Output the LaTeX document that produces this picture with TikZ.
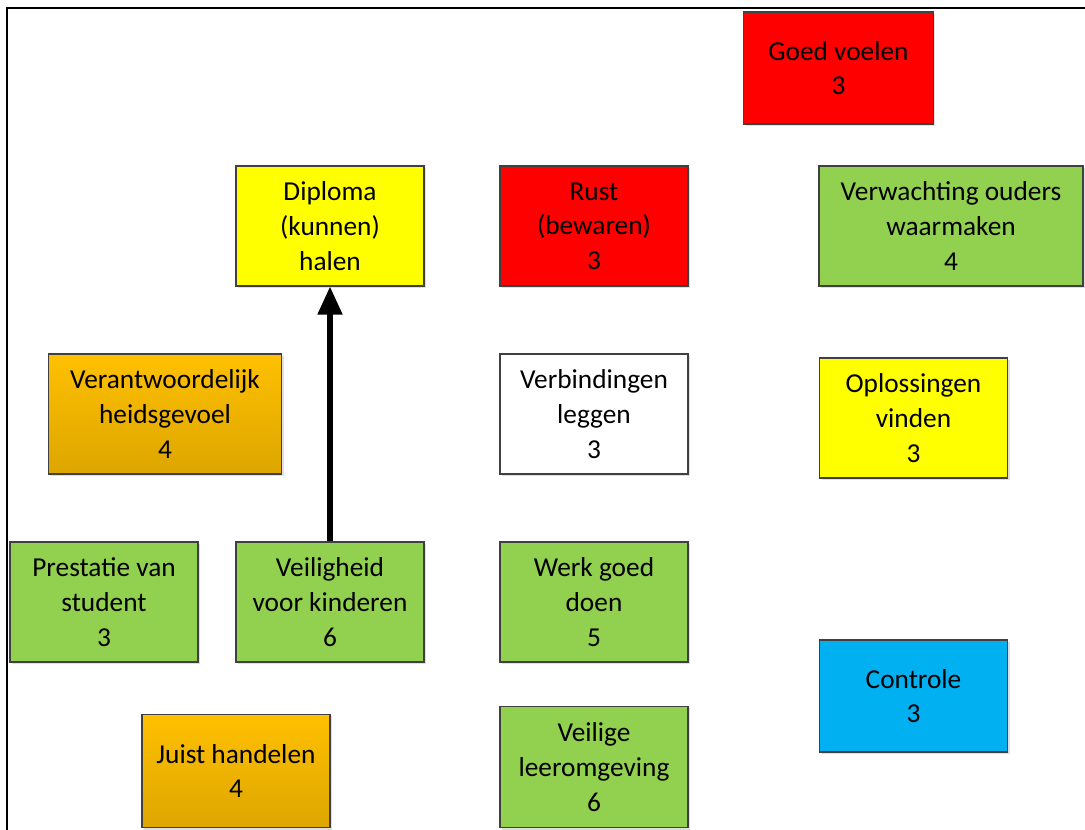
\documentclass[tikz,border=0pt]{standalone}
\usepackage{fontspec}
\setmainfont{Carlito}
\usetikzlibrary{arrows.meta,shadows}

\definecolor{boxred}{HTML}{FF0000}
\definecolor{boxyellow}{HTML}{FFFF00}
\definecolor{boxgreen}{HTML}{92D050}
\definecolor{boxblue}{HTML}{00B0F0}
\definecolor{boxorangetop}{HTML}{FFC000}
\definecolor{boxorangebot}{HTML}{DDA600}
\definecolor{boxline}{HTML}{404040}

\tikzset{
	valbox/.style={draw=boxline, line width=0.9pt, rectangle, align=center,
		inner sep=0pt, minimum width=141pt, minimum height=90pt,
		font=\fontsize{20.5}{26}\selectfont,
		drop shadow={shadow xshift=1.5pt, shadow yshift=-1.5pt, opacity=0.25}},
	redbox/.style={valbox, fill=boxred},
	yellowbox/.style={valbox, fill=boxyellow},
	greenbox/.style={valbox, fill=boxgreen},
	bluebox/.style={valbox, fill=boxblue},
	whitebox/.style={valbox, fill=white},
	orangebox/.style={valbox, top color=boxorangetop, bottom color=boxorangebot},
	linkarrow/.style={line width=3.8pt, -{Triangle[width=18pt,length=21pt]}}
}

\begin{document}
\begin{tikzpicture}[x=0.75pt,y=-0.75pt]
			\useasboundingbox (0,0) rectangle (1085,830);
			\draw[line width=1.2pt] (1085,8) -- (7,8) -- (7,830);
			% bovenste rij
			\node[redbox, minimum width=142pt, minimum height=84pt] (goed) at (838.5,68) {Goed voelen\\3};
			\node[yellowbox] (diploma) at (330,226) {Diploma\\(kunnen)\\halen};
			\node[redbox] (rust) at (594,226) {Rust\\(bewaren)\\3};
			\node[greenbox, minimum width=198pt] (ouders) at (951,226) {Verwachting ouders\\waarmaken\\4};
			% middelste rij
			\node[orangebox, minimum width=175pt] (verant) at (165,414) {Verantwoordelijk\\heidsgevoel\\4};
			\node[whitebox] (verbind) at (594,414) {Verbindingen\\leggen\\3};
			\node[yellowbox] (oploss) at (913.5,418) {Oplossingen\\vinden\\3};
			% onderste rijen
			\node[greenbox] (prestatie) at (104,602) {Prestatie van\\student\\3};
			\node[greenbox] (veilig) at (330,602) {Veiligheid\\voor kinderen\\6};
			\node[greenbox] (werk) at (594,602) {Werk goed\\doen\\5};
			\node[bluebox, minimum height=84pt] (controle) at (913.5,696) {Controle\\3};
			\node[orangebox, minimum height=85pt] (juist) at (236,771) {Juist handelen\\4};
			\node[greenbox, minimum height=91pt] (leer) at (594,767) {Veilige\\leeromgeving\\6};
			\draw[linkarrow] (veilig) -- (diploma);
		\end{tikzpicture}
\end{document}
